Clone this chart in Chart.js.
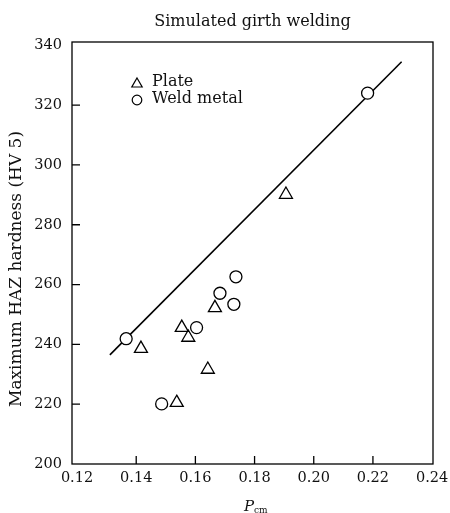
<!DOCTYPE html>
<html>
<head>
<meta charset="utf-8">
<script src="https://cdn.jsdelivr.net/npm/chart.js@4.4.0/dist/chart.umd.min.js"></script>
<style>
  html, body { margin: 0; background: #fff; }
  #wrap { width: 450px; height: 513px; }
</style>
</head>
<body>
<div id="wrap"><canvas id="c"></canvas></div>
<script>
// Pcm vs. maximum HAZ hardness, simulated girth welding
const plateX = [0.1416, 0.1537, 0.1554, 0.1576, 0.1642, 0.1666, 0.1906];
const plateY = [238.6, 220.5, 245.6, 242.3, 231.6, 252.2, 290.1];
const weldX = [0.1366, 0.1486, 0.1604, 0.1683, 0.1730, 0.1737, 0.2182];
const weldY = [241.9, 220.1, 245.6, 257.1, 253.4, 262.6, 324.0];
const fitX = [0.1311, 0.2297];
const fitY = [236.5, 334.5];
const xTicks = [0.12, 0.14, 0.16, 0.18, 0.20, 0.22, 0.24];
const yTicks = [200, 220, 240, 260, 280, 300, 320, 340];

const SERIF = '"DejaVu Serif", "Liberation Serif", serif';

const toPoints = (xs, ys) => xs.map((x, i) => ({ x: x, y: ys[i] }));

// frame, inward tick marks, titles and the in-plot key
const decorations = {
  id: 'decorations',
  afterDraw(chart) {
    const { ctx, chartArea: a, scales } = chart;
    ctx.save();
    ctx.strokeStyle = '#000';
    ctx.lineWidth = 1.3;
    ctx.strokeRect(a.left, a.top, a.right - a.left, a.bottom - a.top);

    ctx.beginPath();
    xTicks.slice(1, -1).forEach(v => {
      const px = scales.x.getPixelForValue(v);
      ctx.moveTo(px, a.bottom);
      ctx.lineTo(px, a.bottom - 8);
    });
    yTicks.slice(1, -1).forEach(v => {
      const py = scales.y.getPixelForValue(v);
      ctx.moveTo(a.left, py);
      ctx.lineTo(a.left + 8, py);
    });
    ctx.stroke();

    ctx.fillStyle = '#111';
    ctx.textAlign = 'center';
    ctx.textBaseline = 'middle';
    ctx.font = '16px ' + SERIF;
    ctx.fillText('Simulated girth welding', (a.left + a.right) / 2, 22);

    ctx.save();
    ctx.translate(17, 269);
    ctx.rotate(-Math.PI / 2);
    ctx.font = '17px ' + SERIF;
    ctx.fillText('Maximum HAZ hardness (HV 5)', 0, 0);
    ctx.restore();

    ctx.textAlign = 'left';
    ctx.textBaseline = 'alphabetic';
    ctx.font = 'italic 15px ' + SERIF;
    ctx.fillText('P', 244, 511);
    ctx.font = '9px ' + SERIF;
    ctx.fillText('cm', 254, 513);

    // key
    ctx.fillStyle = 'rgba(0,0,0,0)';
    ctx.lineWidth = 1.2;
    Chart.helpers.drawPoint(ctx, { pointStyle: 'triangle', radius: 6, borderWidth: 1.2 }, 137, 84);
    Chart.helpers.drawPoint(ctx, { pointStyle: 'circle', radius: 4.8, borderWidth: 1.2 }, 137, 100);
    ctx.fillStyle = '#111';
    ctx.font = '16px ' + SERIF;
    ctx.textBaseline = 'middle';
    ctx.fillText('Plate', 152, 82);
    ctx.fillText('Weld metal', 152, 99);
    ctx.restore();
  }
};

new Chart(document.getElementById('c'), {
  type: 'scatter',
  data: {
    datasets: [
      {
        label: 'Weld metal',
        data: toPoints(weldX, weldY),
        pointStyle: 'circle',
        pointRadius: 6,
        borderColor: '#000',
        backgroundColor: '#fff',
        borderWidth: 1.3
      },
      {
        label: 'Plate',
        data: toPoints(plateX, plateY),
        pointStyle: 'triangle',
        pointRadius: 7.5,
        borderColor: '#000',
        backgroundColor: 'rgba(0,0,0,0)',
        borderWidth: 1.3
      },
      {
        label: 'fit',
        type: 'line',
        data: toPoints(fitX, fitY),
        borderColor: '#000',
        borderWidth: 1.6,
        pointRadius: 0,
        showLine: true,
        fill: false
      }
    ]
  },
  options: {
    responsive: true,
    maintainAspectRatio: false,
    animation: false,
    layout: { padding: { top: 42, right: 17, left: 0, bottom: 0 } },
    plugins: {
      legend: { display: false },
      tooltip: { enabled: false }
    },
    scales: {
      x: {
        type: 'linear',
        min: 0.1183,
        max: 0.2403,
        afterBuildTicks: s => { s.ticks = xTicks.map(v => ({ value: v })); },
        afterFit: s => { s.height = 49; s.paddingLeft = 0; s.paddingRight = 0; },
        grid: { display: false, drawTicks: false },
        border: { display: false },
        ticks: {
          color: '#111',
          font: { family: SERIF, size: 14.5 },
          padding: 6,
          maxRotation: 0,
          callback: v => v.toFixed(2)
        }
      },
      y: {
        type: 'linear',
        min: 200,
        max: 341.1,
        afterBuildTicks: s => { s.ticks = yTicks.map(v => ({ value: v })); },
        afterFit: s => { s.width = 72; },
        grid: { display: false, drawTicks: false },
        border: { display: false },
        ticks: {
          color: '#111',
          font: { family: SERIF, size: 14.5 },
          padding: 10
        }
      }
    }
  },
  plugins: [decorations]
});
</script>
</body>
</html>
